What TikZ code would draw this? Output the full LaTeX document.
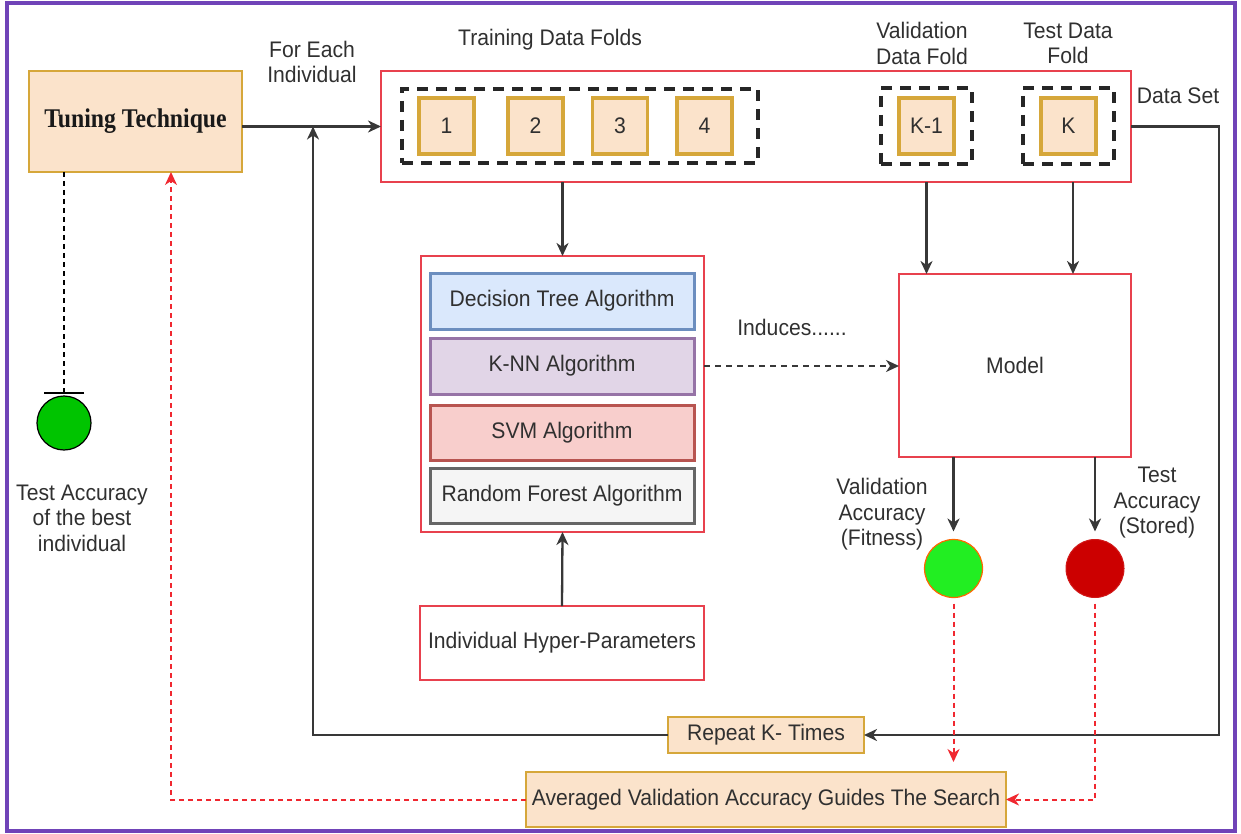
\documentclass[tikz,border=0pt]{standalone}
\usepackage{fontspec}
\setmainfont{Liberation Sans}[FakeStretch=0.94]
\newfontfamily\tunefont{Liberation Serif}[FakeStretch=0.88]
\usetikzlibrary{arrows.meta}

\definecolor{txt}{HTML}{303030}
\definecolor{peach}{HTML}{FBE3CB}
\definecolor{gold}{HTML}{D6A73A}
\definecolor{redb}{HTML}{E8414E}
\definecolor{redd}{HTML}{F02830}
\definecolor{frame}{HTML}{7043B8}
\definecolor{dtfill}{HTML}{DAE8FC}\definecolor{dtline}{HTML}{6C8EBF}
\definecolor{knfill}{HTML}{E1D5E7}\definecolor{knline}{HTML}{9673A6}
\definecolor{svfill}{HTML}{F8CECC}\definecolor{svline}{HTML}{B85450}
\definecolor{rffill}{HTML}{F5F5F5}\definecolor{rfline}{HTML}{666666}
\definecolor{lime}{HTML}{22EE22}
\definecolor{leaf}{HTML}{00C400}
\definecolor{blood}{HTML}{CC0000}

\tikzset{
  every node/.style={inner sep=0pt, outer sep=0pt, text=txt,
    font=\fontsize{22.5}{25.5}\selectfont},
  lbl/.style={align=center},
  peachbox/.style={draw=gold, fill=peach, line width=2pt},
  foldbox/.style={draw=gold, fill=peach, line width=3.5pt,
    minimum width=55pt, minimum height=56pt},
  foldgroup/.style={draw=black!85, line width=4.5pt, dash pattern=on 11pt off 8pt},
  redbox/.style={draw=redb, fill=white, line width=2pt},
  algbox/.style={line width=3pt, minimum width=264pt},
  conn/.style={draw=black!78, line width=2.3pt},
  arr/.style={conn, -{Stealth[length=13pt,width=12pt,inset=4pt]}},
  dasharr/.style={arr, dash pattern=on 6pt off 5pt},
  redarr/.style={draw=redd, line width=2pt, dash pattern=on 5pt off 4pt,
    -{Stealth[length=13pt,width=12pt,inset=4pt]}},
}

\begin{document}
\begin{tikzpicture}[x=1pt,y=-1pt]
\useasboundingbox (0,0) rectangle (1241,834);
% outer frame
\draw[frame, line width=4pt] (7,3) rectangle (1235,831);

% tuning technique
\node[peachbox, minimum width=213pt, minimum height=101pt] (tt) at (135.5,121.5)
  {\tunefont\bfseries\fontsize{27}{30}\selectfont\color{black!90}Tuning Technique};
\node[lbl] (each) at (312,62) {For Each\\Individual};

% data set with its folds
\node[redbox, minimum width=750pt, minimum height=111pt] (ds) at (756,126.5) {};
\node[foldgroup, minimum width=356pt, minimum height=74pt] (train) at (580,126) {};
\node[foldbox] (f1) at (446.5,126) {1};
\node[foldbox] (f2) at (535.5,126) {2};
\node[foldbox] (f3) at (620,126) {3};
\node[foldbox] (f4) at (704.5,126) {4};
\node[foldgroup, minimum width=91pt, minimum height=76pt] (valg) at (926.5,126) {};
\node[foldbox] (fk1) at (926.5,126) {K-1};
\node[foldgroup, minimum width=91pt, minimum height=76pt] (testg) at (1068.5,126) {};
\node[foldbox] (fk) at (1068.5,126) {K};
\node[lbl] (trainlbl) at (550,40) {Training Data Folds};
\node[lbl] (vallbl) at (922,43.5) {Validation\\Data Fold};
\node[lbl] (testlbl) at (1068,43.5) {Test Data\\Fold};
\node[lbl] (dslbl) at (1178,96) {Data Set};

% learning algorithms
\node[redbox, minimum width=283pt, minimum height=276pt] (algo) at (562.5,394) {};
\node[algbox, draw=dtline, fill=dtfill, minimum height=56pt] (dt) at (562,301) {Decision Tree Algorithm};
\node[algbox, draw=knline, fill=knfill, minimum height=56pt] (knn) at (562,366) {K-NN Algorithm};
\node[algbox, draw=svline, fill=svfill, minimum height=55pt] (svm) at (562,432.5) {SVM Algorithm};
\node[algbox, draw=rfline, fill=rffill, minimum height=55pt] (rf) at (562,495.5) {Random Forest Algorithm};
\node[redbox, minimum width=284pt, minimum height=74pt] (hyp) at (562,643) {Individual Hyper-Parameters};

% model and its outputs
\node[redbox, minimum width=232pt, minimum height=183pt] (model) at (1015,365.5) {Model};
\node[lbl] (induces) at (792,327) {Induces......};
\node[circle, draw=orange!80!red, line width=1.2pt, fill=lime, minimum size=58pt] (gc) at (953.5,568.5) {};
\node[circle, draw=blood!90!white, line width=1pt, fill=blood, minimum size=58pt] (rc) at (1095,568.5) {};
\node[lbl] (vacc) at (882,514.5) {Validation\\Accuracy\\(Fitness)};
\node[lbl] (tacc) at (1157,503) {Test\\Accuracy\\(Stored)};

% loop and search guidance
\node[peachbox, minimum width=196pt, minimum height=36pt] (rep) at (766,735) {Repeat K- Times};
\node[peachbox, minimum width=480pt, minimum height=55pt] (avg) at (766,799.5) {Averaged Validation Accuracy Guides The Search};

% best individual
\node[circle, draw=black, line width=1.2pt, fill=leaf, minimum size=54pt] (best) at (64,423) {};
\node[lbl] (bestlbl) at (82,518) {Test Accuracy\\of the best\\individual};

% routing points
\coordinate (join) at (313,126.5);
\coordinate (rcorner) at (1219,735);
\coordinate (ttin) at (171,172);
\coordinate (barc) at (64,394);

% connectors
\draw[arr] (tt.east |- ds.west) -- (ds.west);
\draw[arr] (ds.east) -| (rcorner) -- (rep.east);
\draw[arr] (rep.west) -| (join);
\draw[arr] (ds.south -| algo.north) -- (algo.north);
\draw[arr] (hyp.north) -- (algo.south);
\draw[dasharr] (knn.east -| algo.east) -- (knn.east -| model.west);
\draw[arr] (ds.south -| fk1.center) -- (model.north -| fk1.center);
\draw[arr] ([xshift=4.5pt]ds.south -| fk.center) -- ([xshift=4.5pt]model.north -| fk.center);
\draw[arr, shorten >=8pt] (model.south -| gc.center) -- (gc.north);
\draw[arr, shorten >=8pt] (model.south -| rc.center) -- (rc.north);
\draw[redarr, shorten <=6pt, shorten >=10pt] (gc.south) -- (avg.north -| gc.center);
\draw[redarr, shorten <=6pt] (rc.south) |- (avg.east);
\draw[redarr] (avg.west) -| (ttin);
\draw[draw=black, line width=1.8pt, dash pattern=on 5pt off 4pt,
  -{Bar[width=40pt,line width=1.8pt]}] (tt.south -| barc) -- (barc);
\end{tikzpicture}
\end{document}
